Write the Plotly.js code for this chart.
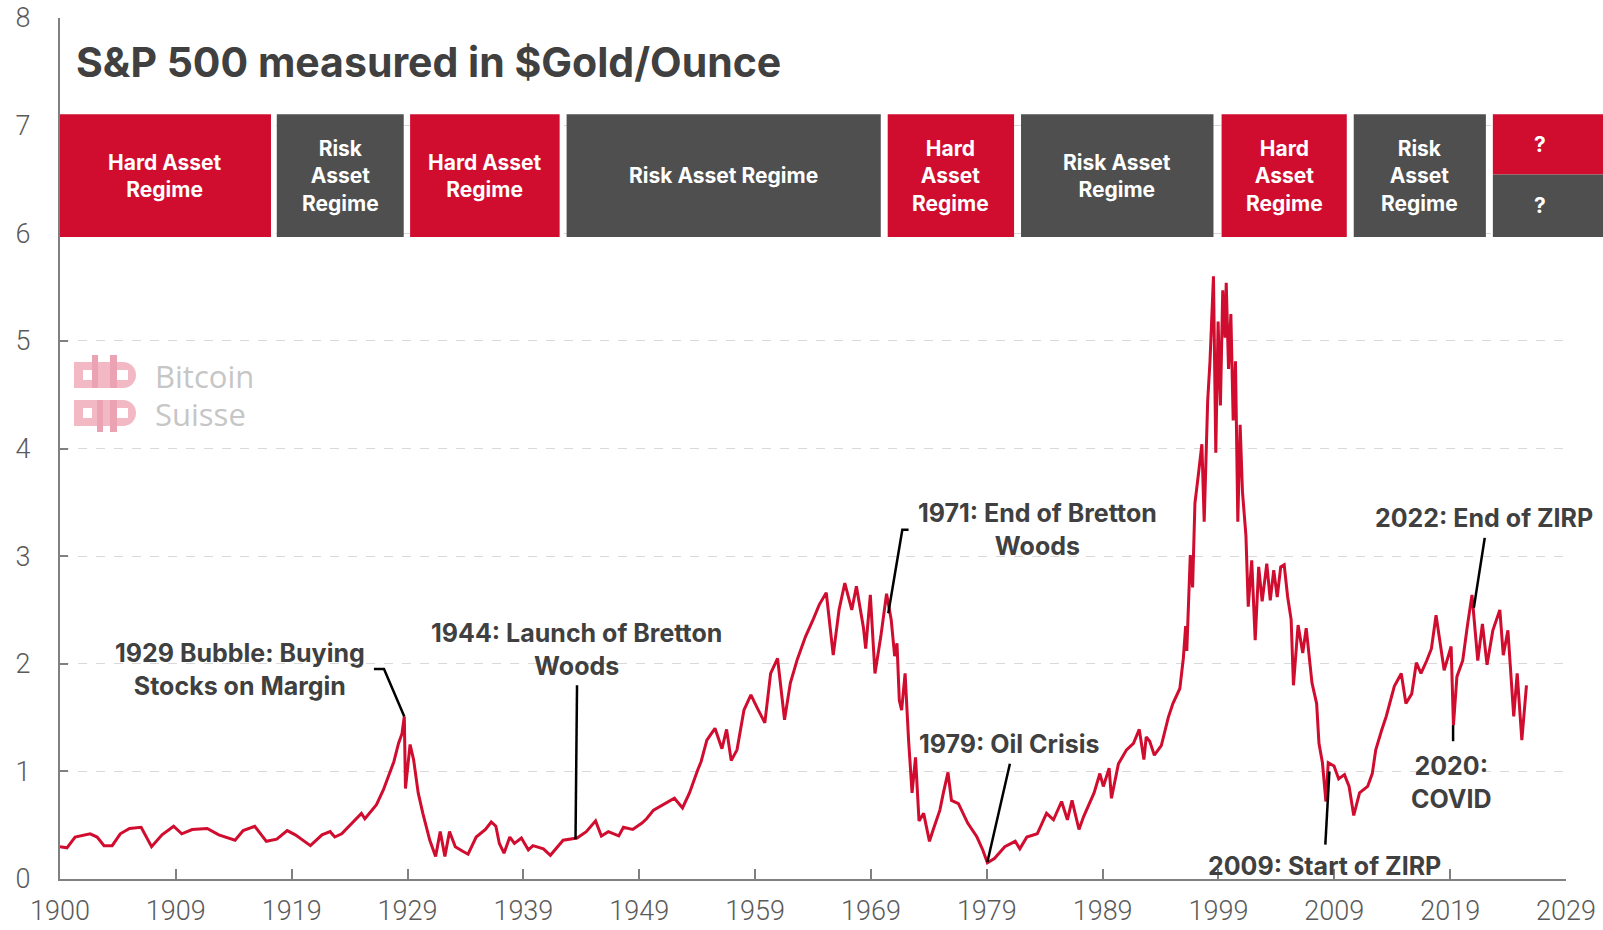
<!DOCTYPE html>
<html>
<head>
<meta charset="utf-8">
<script src="https://cdn.plot.ly/plotly-3.0.1.min.js"></script>
<style>html,body{margin:0;padding:0;background:#fff}</style>
</head>
<body>
<div id="chart" style="width:1603px;height:930px"></div>
<script>
// S&P 500 / gold price ratio (decimal years)
let ratioYears = [
  1900.0, 1900.6, 1901.3, 1902.6, 1903.2, 1903.8, 1904.5, 1905.2, 1906.0, 1907.0,
  1907.9, 1908.8, 1909.8, 1910.5, 1911.4, 1912.7, 1913.7, 1915.1, 1915.8, 1916.8,
  1917.8, 1918.7, 1919.6, 1920.3, 1921.6, 1922.6, 1923.3, 1923.7, 1924.3, 1925.0,
  1926.0, 1926.3, 1927.3, 1927.9, 1928.3, 1928.8, 1929.2, 1929.5, 1929.7, 1929.8,
  1930.2, 1930.5, 1930.9, 1931.3, 1931.9, 1932.4, 1932.8, 1933.2, 1933.6, 1934.1,
  1934.7, 1935.2, 1935.9, 1936.7, 1937.2, 1937.6, 1937.9, 1938.3, 1938.8, 1939.2,
  1939.8, 1940.4, 1940.8, 1941.7, 1942.3, 1943.4, 1944.6, 1945.4, 1946.2, 1946.7,
  1947.3, 1948.2, 1948.6, 1949.4, 1950.2, 1950.6, 1951.2, 1952.0, 1952.6, 1953.0,
  1953.7, 1954.3, 1955.0, 1955.3, 1955.8, 1956.5, 1957.1, 1957.5, 1957.9, 1958.4,
  1959.0, 1959.6, 1960.1, 1960.8, 1961.3, 1961.9, 1962.5, 1963.0, 1963.6, 1964.3,
  1965.0, 1965.5, 1966.1, 1966.7, 1967.2, 1967.7, 1968.3, 1968.7, 1969.3, 1969.5,
  1969.9, 1970.3, 1970.8, 1971.3, 1971.7, 1972.0, 1972.2, 1972.4, 1972.6, 1972.9,
  1973.2, 1973.5, 1973.8, 1974.1, 1974.5, 1975.0, 1975.3, 1975.9, 1976.2, 1976.6,
  1976.9, 1977.5, 1978.3, 1979.1, 1979.6, 1980.0, 1980.6, 1981.5, 1982.4, 1982.8,
  1983.4, 1984.3, 1985.1, 1985.7, 1986.4, 1986.9, 1987.3, 1987.9, 1988.3, 1989.2,
  1989.7, 1990.0, 1990.5, 1990.7, 1991.3, 1992.0, 1992.6, 1993.1, 1993.5, 1993.7,
  1994.0, 1994.4, 1995.0, 1995.6, 1996.0, 1996.6, 1996.9, 1997.1, 1997.2, 1997.5,
  1997.7, 1997.9, 1998.2, 1998.5, 1998.7, 1999.0, 1999.2, 1999.5, 1999.7, 1999.9,
  2000.1, 2000.3, 2000.5, 2000.6, 2000.8, 2001.0, 2001.2, 2001.4, 2001.6, 2001.8,
  2002.0, 2002.3, 2002.5, 2002.8, 2003.1, 2003.4, 2003.7, 2004.1, 2004.4, 2004.7,
  2005.0, 2005.3, 2005.6, 2005.9, 2006.2, 2006.4, 2006.8, 2007.2, 2007.5, 2007.7,
  2008.0, 2008.4, 2008.6, 2008.9, 2009.2, 2009.4, 2009.9, 2010.3, 2010.8, 2011.2,
  2011.6, 2012.1, 2012.8, 2013.2, 2013.5, 2014.0, 2014.4, 2015.1, 2015.7, 2016.1,
  2016.6, 2017.0, 2017.4, 2017.9, 2018.3, 2018.7, 2019.0, 2019.4, 2020.0, 2020.2,
  2020.5, 2021.0, 2021.4, 2021.8, 2022.3, 2022.7, 2023.1, 2023.6, 2024.2, 2024.5,
  2024.9, 2025.1, 2025.4, 2025.7, 2026.1, 2026.5
];
let ratioValues = [
  0.30, 0.29, 0.39, 0.42, 0.39, 0.31, 0.31, 0.42, 0.47, 0.48,
  0.30, 0.41, 0.49, 0.42, 0.46, 0.47, 0.41, 0.36, 0.45, 0.49,
  0.35, 0.37, 0.45, 0.41, 0.31, 0.41, 0.44, 0.39, 0.42, 0.50,
  0.61, 0.56, 0.69, 0.83, 0.95, 1.09, 1.26, 1.35, 1.51, 0.84,
  1.25, 1.11, 0.80, 0.61, 0.36, 0.21, 0.44, 0.21, 0.44, 0.30,
  0.26, 0.23, 0.39, 0.46, 0.53, 0.49, 0.33, 0.24, 0.39, 0.33,
  0.38, 0.27, 0.31, 0.28, 0.22, 0.36, 0.38, 0.44, 0.54, 0.40,
  0.44, 0.40, 0.48, 0.46, 0.52, 0.56, 0.64, 0.69, 0.73, 0.75,
  0.66, 0.80, 1.01, 1.09, 1.29, 1.40, 1.21, 1.39, 1.10, 1.20,
  1.57, 1.71, 1.60, 1.45, 1.91, 2.05, 1.48, 1.82, 2.04, 2.25,
  2.42, 2.55, 2.66, 2.08, 2.50, 2.75, 2.50, 2.72, 2.34, 2.14,
  2.64, 1.91, 2.25, 2.65, 2.41, 2.07, 2.19, 1.66, 1.57, 1.91,
  1.29, 0.80, 1.13, 0.54, 0.61, 0.35, 0.45, 0.64, 0.80, 0.99,
  0.73, 0.70, 0.52, 0.39, 0.27, 0.15, 0.19, 0.30, 0.35, 0.28,
  0.39, 0.42, 0.61, 0.55, 0.72, 0.55, 0.73, 0.46, 0.58, 0.80,
  0.98, 0.86, 1.03, 0.75, 1.07, 1.20, 1.26, 1.39, 1.11, 1.32,
  1.28, 1.15, 1.24, 1.50, 1.63, 1.77, 2.05, 2.35, 2.12, 3.01,
  2.71, 3.49, 3.76, 4.04, 3.32, 4.44, 4.81, 5.60, 3.96, 5.18,
  4.40, 5.47, 5.03, 5.54, 4.74, 5.25, 4.26, 4.81, 3.32, 4.22,
  3.60, 3.19, 2.53, 2.96, 2.22, 2.90, 2.58, 2.93, 2.59, 2.87,
  2.62, 2.90, 2.92, 2.62, 2.41, 1.80, 2.36, 2.10, 2.33, 2.10,
  1.82, 1.63, 1.26, 1.08, 0.72, 1.08, 1.05, 0.93, 0.97, 0.86,
  0.59, 0.80, 0.86, 0.98, 1.20, 1.38, 1.51, 1.79, 1.91, 1.63,
  1.72, 2.01, 1.91, 2.03, 2.14, 2.45, 2.22, 1.94, 2.16, 1.43,
  1.88, 2.03, 2.35, 2.64, 2.03, 2.37, 1.99, 2.31, 2.50, 2.08,
  2.31, 1.99, 1.51, 1.91, 1.29, 1.80
];

// x axis ticks (every 3650 days from 1900)
let tickYears = [1900, 1909.99, 1919.99, 1929.98, 1939.97, 1949.97, 1959.96,
  1969.95, 1979.95, 1989.94, 1999.93, 2009.92, 2019.92, 2029.91];
let tickLabels = ['1900', '1909', '1919', '1929', '1939', '1949', '1959',
  '1969', '1979', '1989', '1999', '2009', '2019', '2029'];

// regime bands along the top
let regimeStart = [1900.0, 1918.7, 1930.2, 1943.7, 1971.4, 1982.9, 2000.2, 2011.6, 2023.6];
let regimeEnd   = [1918.2, 1929.65, 1943.1, 1970.8, 1982.3, 1999.5, 2011.0, 2023.0, 2033.2];
let regimeKind  = ['hard', 'risk', 'hard', 'risk', 'hard', 'risk', 'hard', 'risk', 'open'];
let regimeLabels = ['Hard Asset<br>Regime', 'Risk<br>Asset<br>Regime', 'Hard Asset<br>Regime',
  'Risk Asset Regime', 'Hard<br>Asset<br>Regime', 'Risk Asset<br>Regime',
  'Hard<br>Asset<br>Regime', 'Risk<br>Asset<br>Regime', '?'];

// event callouts
let eventLabels = ['1929 Bubble: Buying<br>Stocks on Margin', '1944: Launch of Bretton<br>Woods',
  '1971: End of Bretton<br>Woods', '1979: Oil Crisis', '2009: Start of ZIRP',
  '2020:<br>COVID', '2022: End of ZIRP'];

const RED = '#D00C2F';
const GREY = '#4F4F4F';
const TEXT = '#404040';
const TICKFONT = {family: 'Roboto, Liberation Sans, sans-serif', size: 27, weight: 300, color: '#5A5A5A'};
const xRange = [1900, 2029.91];
const bandTop = 7.105, bandBottom = 5.966, bandMid = 6.545;

function xToPaper(yr) {
  return (yr - xRange[0]) / (xRange[1] - xRange[0]);
}

// label anchor points and leader lines for the callouts
let eventPos = [
  {x: 1915.53, y: 1.95, line: [[1927.08, 1.952], [1927.95, 1.952], [1929.7, 1.51]]},
  {x: 1944.56, y: 2.13, line: [[1944.6, 1.80], [1944.47, 0.37]]},
  {x: 1984.32, y: 3.25, line: [[1973.2, 3.245], [1972.66, 3.245], [1971.45, 2.47]]},
  {x: 1981.85, y: 1.255, line: [[1981.94, 1.07], [1980.0, 0.158]]},
  {x: 2009.1, y: 0.12, line: [[2009.5, 1.0], [2009.15, 0.32]]},
  {x: 2020.03, y: 0.90, line: [[2020.17, 1.43], [2020.17, 1.28]]},
  {x: 2022.82, y: 3.355, line: [[2022.9, 3.17], [2021.96, 2.52]]}
];

let shapes = [];
let annotations = [];

regimeKind.forEach(function (kind, i) {
  if (kind === 'open') {
    let x0 = xToPaper(regimeStart[i]), x1 = xToPaper(regimeEnd[i]);
    shapes.push({type: 'rect', xref: 'paper', yref: 'y', x0: x0, x1: x1, y0: bandMid, y1: bandTop,
      fillcolor: RED, line: {width: 0}});
    shapes.push({type: 'rect', xref: 'paper', yref: 'y', x0: x0, x1: x1, y0: bandBottom, y1: bandMid,
      fillcolor: GREY, line: {width: 0}});
    [(bandMid + bandTop) / 2, (bandBottom + bandMid) / 2].forEach(function (yy) {
      annotations.push({xref: 'paper', yref: 'y', x: (x0 + x1) / 2, y: yy, text: regimeLabels[i],
        showarrow: false, font: {family: 'Inter', size: 21, weight: 700, color: '#fff'}});
    });
  } else {
    shapes.push({type: 'rect', xref: 'x', yref: 'y', x0: regimeStart[i], x1: regimeEnd[i],
      y0: bandBottom, y1: bandTop, fillcolor: kind === 'hard' ? RED : GREY, line: {width: 0}});
    annotations.push({xref: 'x', yref: 'y', x: (regimeStart[i] + regimeEnd[i]) / 2, y: (bandBottom + bandTop) / 2,
      text: regimeLabels[i], showarrow: false,
      font: {family: 'Inter', size: 21, weight: 700, color: '#fff'}});
  }
});

eventPos.forEach(function (p, i) {
  let path = p.line.map(function (pt, k) { return (k ? 'L' : 'M') + pt[0] + ',' + pt[1]; }).join(' ');
  shapes.push({type: 'path', xref: 'x', yref: 'y', path: path, line: {color: '#000', width: 2.5}});
  annotations.push({xref: 'x', yref: 'y', x: p.x, y: p.y, text: eventLabels[i], showarrow: false,
    xanchor: 'center', yanchor: 'middle',
    font: {family: 'Inter', size: 25, weight: 700, color: TEXT}});
});

// watermark
annotations.push({xref: 'paper', yref: 'paper', x: (153 - 60) / 1506, y: (879 - 376) / 861, text: 'Bitcoin',
  showarrow: false, xanchor: 'left', yanchor: 'middle', font: {family: 'Open Sans', size: 31, color: '#C6C6C6'}});
annotations.push({xref: 'paper', yref: 'paper', x: (153 - 60) / 1506, y: (879 - 414) / 861, text: 'Suisse',
  showarrow: false, xanchor: 'left', yanchor: 'middle', font: {family: 'Open Sans', size: 31, color: '#C6C6C6'}});

let logoSvg = '<svg xmlns="http://www.w3.org/2000/svg" width="63" height="78" viewBox="0 0 63 78">' +
  '<path fill="#F2B8C4" d="M0 8 H49 A13 13 0 0 1 49 34 H0 Z"/>' +
  '<path fill="#F2B8C4" d="M0 46 H49 A13 13 0 0 1 49 72 H0 Z"/>' +
  '<rect fill="#EBA3B4" x="18" y="1" width="6" height="33"/>' +
  '<rect fill="#EBA3B4" x="36" y="1" width="7" height="33"/>' +
  '<rect fill="#EBA3B4" x="23" y="46" width="6" height="32"/>' +
  '<rect fill="#EBA3B4" x="36" y="46" width="7" height="32"/>' +
  '<rect fill="#fff" x="9" y="16" width="9" height="10"/>' +
  '<rect fill="#fff" x="43" y="16" width="11" height="10"/>' +
  '<rect fill="#fff" x="9" y="54" width="9" height="10"/>' +
  '<rect fill="#fff" x="43" y="54" width="11" height="10"/>' +
  '</svg>';

let trace = {
  x: ratioYears,
  y: ratioValues,
  type: 'scatter',
  mode: 'lines',
  line: {color: RED, width: 3},
  hoverinfo: 'skip'
};

let layout = {
  width: 1603,
  height: 930,
  margin: {l: 60, r: 37, t: 18, b: 51, pad: 0},
  paper_bgcolor: '#fff',
  plot_bgcolor: '#fff',
  showlegend: false,
  title: {
    text: 'S&amp;P 500 measured in $Gold/Ounce',
    font: {family: 'Inter', size: 41, weight: 700, color: TEXT},
    xref: 'container', yref: 'container',
    x: 76 / 1603, xanchor: 'left',
    y: 1 - 63 / 930, yanchor: 'middle'
  },
  xaxis: {
    range: xRange,
    tickmode: 'array',
    tickvals: tickYears,
    ticktext: tickLabels,
    ticks: 'inside',
    ticklen: 10,
    tickwidth: 2,
    tickcolor: '#808080',
    showline: true,
    linecolor: '#808080',
    linewidth: 2,
    showgrid: false,
    zeroline: false,
    ticklabelstandoff: 7,
    tickfont: TICKFONT
  },
  yaxis: {
    range: [0, 8],
    tickmode: 'linear',
    tick0: 0,
    dtick: 1,
    ticks: 'inside',
    ticklen: 8,
    tickwidth: 2,
    tickcolor: '#808080',
    showline: true,
    linecolor: '#808080',
    linewidth: 2,
    showgrid: true,
    gridcolor: '#D9D9D9',
    griddash: 'dash',
    gridwidth: 1,
    zeroline: false,
    ticklabelstandoff: 22,
    tickfont: TICKFONT
  },
  shapes: shapes,
  annotations: annotations,
  images: [{
    source: 'data:image/svg+xml;base64,' + btoa(logoSvg),
    xref: 'paper', yref: 'paper',
    x: (74 - 60) / 1506, y: (879 - 354) / 861,
    sizex: 63 / 1506, sizey: 78 / 861,
    xanchor: 'left', yanchor: 'top',
    sizing: 'stretch', layer: 'above'
  }]
};

Plotly.newPlot('chart', [trace], layout, {staticPlot: true, displayModeBar: false});
</script>
</body>
</html>
